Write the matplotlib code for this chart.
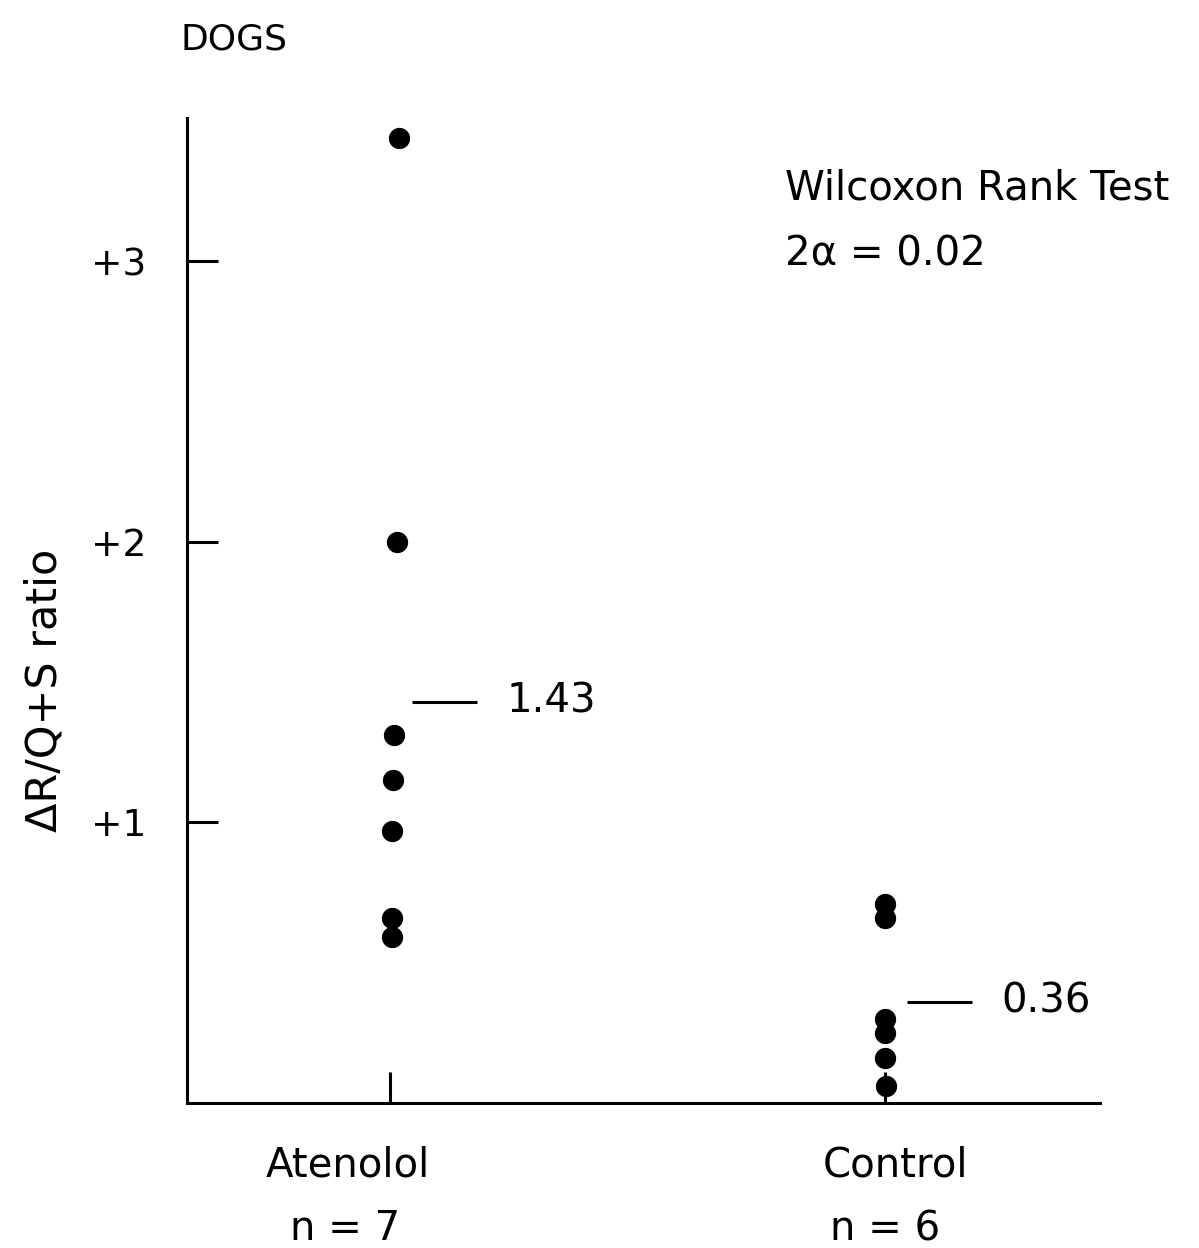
import numpy as np
import matplotlib
matplotlib.use('Agg')
import matplotlib.pyplot as plt

# Data
groups = ['Atenolol', 'Control']
group_n = ['n = 7', 'n = 6']
atenolol = [3.44, 2.00, 1.31, 1.15, 0.97, 0.66, 0.59]
control = [0.71, 0.66, 0.30, 0.25, 0.16, 0.06]
means = [1.43, 0.36]
mean_labels = ['1.43', '0.36']
y_ticks = [1, 2, 3]
y_tick_labels = ['+1', '+2', '+3']

# small sideways drift of the hand-placed dots
atenolol_dx = [0.019, 0.015, 0.008, 0.006, 0.004, 0.004, 0.004]
control_dx = [0.0, 0.0, 0.0, 0.0, 0.0, 0.002]

plt.rcParams['font.family'] = ['DejaVu Sans']

W, H = 1199, 1248
fig = plt.figure(figsize=(W / 100, H / 100), dpi=100)
ax = fig.add_axes([187 / W, 1 - 1103 / H, (1100 - 187) / W, (1103 - 118) / H])

pos = [1, 2]
ax.scatter(np.array(atenolol_dx) + pos[0], atenolol, s=205, color='black', zorder=3)
ax.scatter(np.array(control_dx) + pos[1], control, s=205, color='black', zorder=3)

# group means
for p, m, lab in zip(pos, means, mean_labels):
    ax.hlines(m, p + 0.045, p + 0.175, color='black', lw=2.2)
    ax.text(p + 0.235, m, lab, fontsize=29, va='center', ha='left')

ax.set_xlim(0.59, 2.434)
ax.set_ylim(0, 3.51)

for side in ['top', 'right']:
    ax.spines[side].set_visible(False)
for side in ['left', 'bottom']:
    ax.spines[side].set_linewidth(2.2)

ax.set_yticks(y_ticks, labels=y_tick_labels)
ax.set_xticks(pos, labels=['', ''])
ax.tick_params(axis='y', direction='in', length=22, width=2.2, pad=29, labelsize=27)
ax.tick_params(axis='x', direction='in', length=22, width=2.2)

# category labels under the axis
label_dx = [-0.085, 0.02]
n_dx = [-0.09, 0.0]
for p, g, n, dx, ndx in zip(pos, groups, group_n, label_dx, n_dx):
    ax.text(p + dx, -0.063, g, fontsize=29, ha='center', va='center',
            transform=ax.get_xaxis_transform())
    ax.text(p + ndx, -0.128, n, fontsize=29, ha='center', va='center',
            transform=ax.get_xaxis_transform())

fig.text(45 / W, 1 - 690 / H, 'ΔR/Q+S ratio', rotation=90, fontsize=31,
         ha='center', va='center')
fig.text(180 / W, 1 - 49 / H, 'DOGS', fontsize=26, ha='left', va='baseline')
fig.text(785 / W, 1 - 200 / H, 'Wilcoxon Rank Test', fontsize=29, ha='left', va='baseline')
fig.text(785 / W, 1 - 265 / H, '2α = 0.02', fontsize=29, ha='left', va='baseline')

fig.savefig('out.png', dpi=100, facecolor='white')
